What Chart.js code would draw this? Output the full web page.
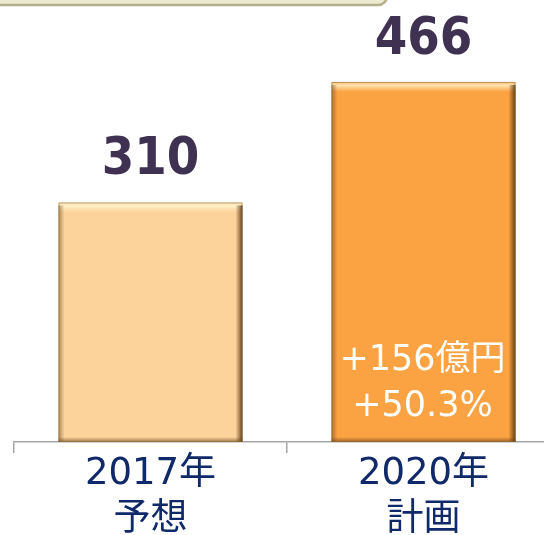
<!DOCTYPE html>
<html>
<head>
<meta charset="utf-8">
<script src="https://cdn.jsdelivr.net/npm/chart.js@4/dist/chart.umd.min.js"></script>
<style>
  html, body { margin: 0; padding: 0; background: #ffffff; overflow: hidden; }
  #wrap { position: relative; width: 560px; height: 535px; }
</style>
</head>
<body>
<div id="wrap"><canvas id="c"></canvas></div>
<script>
// ---- data ----
const categories = [["2017年", "予想"], ["2020年", "計画"]];
const values = [310, 466];
const yMax = 572;

const diff = values[1] - values[0];
const pct = (diff / values[0] * 100).toFixed(1);
const noteLines = ["+" + diff + "億円", "+" + pct + "%"];

const FONT = "'DejaVu Sans', 'Noto Sans CJK JP', sans-serif";
const BOLD = "'DejaVu Sans Condensed', 'DejaVu Sans', sans-serif";

// decorative cropped box at top (background)
const topBox = {
  id: 'topBox',
  beforeDraw(chart) {
    const ctx = chart.ctx;
    ctx.save();
    ctx.beginPath();
    ctx.roundRect(-20, -30, 407, 35, 9);
    ctx.fillStyle = '#ecebd2';
    ctx.fill();
    ctx.lineWidth = 2.5;
    ctx.strokeStyle = '#b3b189';
    ctx.stroke();
    ctx.restore();
  }
};

// bevel effect + value labels + note text
const barDecor = {
  id: 'barDecor',
  afterDatasetsDraw(chart) {
    const ctx = chart.ctx;
    const meta = chart.getDatasetMeta(0);
    meta.data.forEach((bar, i) => {
      const w = bar.width;
      const l = bar.x - w / 2, r = bar.x + w / 2, t = bar.y, b = bar.base;
      ctx.save();
      // top highlight
      let g = ctx.createLinearGradient(0, t, 0, t + 10);
      g.addColorStop(0, 'rgba(255,255,235,0.25)');
      g.addColorStop(0.35, 'rgba(255,250,210,0.75)');
      g.addColorStop(1, 'rgba(255,240,200,0)');
      ctx.fillStyle = g;
      ctx.fillRect(l, t, w, 10);
      // left edge shadow
      g = ctx.createLinearGradient(l, 0, l + 6, 0);
      g.addColorStop(0, 'rgba(110,70,30,0.55)');
      g.addColorStop(1, 'rgba(110,70,30,0)');
      ctx.fillStyle = g;
      ctx.fillRect(l, t + 3, 6, b - t - 3);
      // right edge dark
      g = ctx.createLinearGradient(r - 7, 0, r, 0);
      g.addColorStop(0, 'rgba(90,55,20,0)');
      g.addColorStop(0.6, 'rgba(90,55,20,0.55)');
      g.addColorStop(1, 'rgba(60,40,15,0.9)');
      ctx.fillStyle = g;
      ctx.fillRect(r - 7, t + 3, 7, b - t - 3);
      // bottom edge dark
      g = ctx.createLinearGradient(0, b - 5, 0, b);
      g.addColorStop(0, 'rgba(90,55,20,0)');
      g.addColorStop(1, 'rgba(90,55,20,0.6)');
      ctx.fillStyle = g;
      ctx.fillRect(l, b - 5, w, 5);
      // outline
      ctx.strokeStyle = 'rgba(150,110,60,0.6)';
      ctx.lineWidth = 1;
      ctx.strokeRect(l + 0.5, t + 0.5, w - 1, b - t - 1);

      // value label
      ctx.fillStyle = '#3f3151';
      ctx.font = 'bold 52px ' + BOLD;
      ctx.textAlign = 'center';
      ctx.textBaseline = 'alphabetic';
      ctx.fillText(String(values[i]), bar.x, t - 28);
      ctx.restore();
    });
    // note inside second bar
    const bar2 = meta.data[1];
    ctx.save();
    ctx.fillStyle = '#ffffff';
    ctx.font = '35px ' + FONT;
    ctx.textAlign = 'center';
    ctx.textBaseline = 'middle';
    ctx.fillText(noteLines[0], bar2.x - 1, bar2.base - 81);
    ctx.fillText(noteLines[1], bar2.x - 1, bar2.base - 35);
    ctx.restore();
  }
};

new Chart(document.getElementById('c'), {
  type: 'bar',
  data: {
    labels: categories,
    datasets: [{
      data: values,
      backgroundColor: ['#fdd39c', '#fba242'],
      borderWidth: 0,
      categoryPercentage: 1,
      barPercentage: 0.674
    }]
  },
  options: {
    responsive: true,
    maintainAspectRatio: false,
    animation: false,
    layout: { padding: { left: 14, right: 0, top: 0, bottom: 0 } },
    plugins: { legend: { display: false }, tooltip: { enabled: false } },
    scales: {
      x: {
        afterFit(scale) { scale.height = 93; },
        grid: {
          offset: true,
          drawOnChartArea: false,
          drawTicks: true,
          tickLength: 11,
          color: '#a6a6a6',
          lineWidth: 1.5
        },
        border: { display: true, color: '#a6a6a6', width: 1.5 },
        ticks: {
          color: '#10296b',
          padding: -2,
          font: { family: FONT, size: 37, lineHeight: 1.25 },
          maxRotation: 0,
          autoSkip: false
        }
      },
      y: {
        display: false,
        min: 0,
        max: yMax
      }
    }
  },
  plugins: [topBox, barDecor]
});
</script>
</body>
</html>
